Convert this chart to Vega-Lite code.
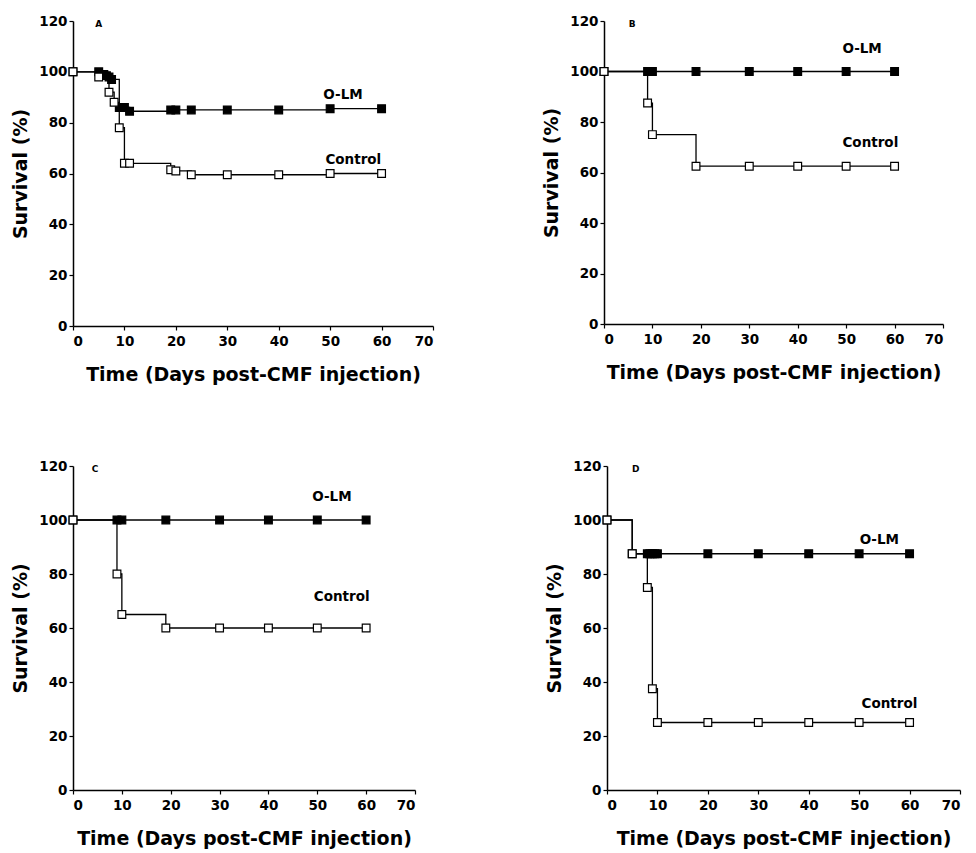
{
"$schema":"https://vega.github.io/schema/vega-lite/v6.json",
"background":"white",
"padding":{"left":11,"top":14,"right":5,"bottom":5},
"config":{
 "view":{"stroke":null},
 "font":"DejaVu Sans",
 "axis":{"grid":false,"domainColor":"black","domainWidth":1.5,"tickColor":"black","tickWidth":1.2,"tickSize":4,"labelColor":"black","labelFont":"DejaVu Sans","labelFontWeight":"bold","labelFontSize":13.5,"labelPadding":2,"titleColor":"black","titleFont":"DejaVu Sans","titleFontWeight":"bold","titleFontSize":19},
 "axisX":{"titlePadding":18,"labelPadding":4},
 "axisY":{"titlePadding":8}
},
"datasets":{
 "surv":[
  {"panel":"A","group":"O-LM","day":0,"surv":100},{"panel":"A","group":"O-LM","day":5,"surv":100},{"panel":"A","group":"O-LM","day":6,"surv":99},{"panel":"A","group":"O-LM","day":6.5,"surv":98.5},{"panel":"A","group":"O-LM","day":7,"surv":98},{"panel":"A","group":"O-LM","day":7.5,"surv":97},{"panel":"A","group":"O-LM","day":9,"surv":86},{"panel":"A","group":"O-LM","day":10,"surv":86},{"panel":"A","group":"O-LM","day":11,"surv":84.5},{"panel":"A","group":"O-LM","day":19,"surv":85},{"panel":"A","group":"O-LM","day":20,"surv":85},{"panel":"A","group":"O-LM","day":23,"surv":85},{"panel":"A","group":"O-LM","day":30,"surv":85},{"panel":"A","group":"O-LM","day":40,"surv":85},{"panel":"A","group":"O-LM","day":50,"surv":85.5},{"panel":"A","group":"O-LM","day":60,"surv":85.5},
  {"panel":"A","group":"Control","day":0,"surv":100},{"panel":"A","group":"Control","day":5,"surv":98},{"panel":"A","group":"Control","day":7,"surv":92},{"panel":"A","group":"Control","day":8,"surv":88},{"panel":"A","group":"Control","day":9,"surv":78},{"panel":"A","group":"Control","day":10,"surv":64},{"panel":"A","group":"Control","day":11,"surv":64},{"panel":"A","group":"Control","day":19,"surv":61.5},{"panel":"A","group":"Control","day":20,"surv":61},{"panel":"A","group":"Control","day":23,"surv":59.5},{"panel":"A","group":"Control","day":30,"surv":59.5},{"panel":"A","group":"Control","day":40,"surv":59.5},{"panel":"A","group":"Control","day":50,"surv":60},{"panel":"A","group":"Control","day":60,"surv":60},
  {"panel":"B","group":"O-LM","day":0,"surv":100},{"panel":"B","group":"O-LM","day":9,"surv":100},{"panel":"B","group":"O-LM","day":9.5,"surv":100},{"panel":"B","group":"O-LM","day":10,"surv":100},{"panel":"B","group":"O-LM","day":19,"surv":100},{"panel":"B","group":"O-LM","day":30,"surv":100},{"panel":"B","group":"O-LM","day":40,"surv":100},{"panel":"B","group":"O-LM","day":50,"surv":100},{"panel":"B","group":"O-LM","day":60,"surv":100},
  {"panel":"B","group":"Control","day":0,"surv":100},{"panel":"B","group":"Control","day":9,"surv":87.5},{"panel":"B","group":"Control","day":10,"surv":75},{"panel":"B","group":"Control","day":19,"surv":62.5},{"panel":"B","group":"Control","day":30,"surv":62.5},{"panel":"B","group":"Control","day":40,"surv":62.5},{"panel":"B","group":"Control","day":50,"surv":62.5},{"panel":"B","group":"Control","day":60,"surv":62.5},
  {"panel":"C","group":"O-LM","day":0,"surv":100},{"panel":"C","group":"O-LM","day":9,"surv":100},{"panel":"C","group":"O-LM","day":10,"surv":100},{"panel":"C","group":"O-LM","day":19,"surv":100},{"panel":"C","group":"O-LM","day":30,"surv":100},{"panel":"C","group":"O-LM","day":40,"surv":100},{"panel":"C","group":"O-LM","day":50,"surv":100},{"panel":"C","group":"O-LM","day":60,"surv":100},
  {"panel":"C","group":"Control","day":0,"surv":100},{"panel":"C","group":"Control","day":9,"surv":80},{"panel":"C","group":"Control","day":10,"surv":65},{"panel":"C","group":"Control","day":19,"surv":60},{"panel":"C","group":"Control","day":30,"surv":60},{"panel":"C","group":"Control","day":40,"surv":60},{"panel":"C","group":"Control","day":50,"surv":60},{"panel":"C","group":"Control","day":60,"surv":60},
  {"panel":"D","group":"O-LM","day":0,"surv":100},{"panel":"D","group":"O-LM","day":5,"surv":87.5},{"panel":"D","group":"O-LM","day":8,"surv":87.5},{"panel":"D","group":"O-LM","day":8.5,"surv":87.5},{"panel":"D","group":"O-LM","day":9,"surv":87.5},{"panel":"D","group":"O-LM","day":9.5,"surv":87.5},{"panel":"D","group":"O-LM","day":10,"surv":87.5},{"panel":"D","group":"O-LM","day":20,"surv":87.5},{"panel":"D","group":"O-LM","day":30,"surv":87.5},{"panel":"D","group":"O-LM","day":40,"surv":87.5},{"panel":"D","group":"O-LM","day":50,"surv":87.5},{"panel":"D","group":"O-LM","day":60,"surv":87.5},
  {"panel":"D","group":"Control","day":0,"surv":100},{"panel":"D","group":"Control","day":5,"surv":87.5},{"panel":"D","group":"Control","day":8,"surv":75},{"panel":"D","group":"Control","day":9,"surv":37.5},{"panel":"D","group":"Control","day":10,"surv":25},{"panel":"D","group":"Control","day":20,"surv":25},{"panel":"D","group":"Control","day":30,"surv":25},{"panel":"D","group":"Control","day":40,"surv":25},{"panel":"D","group":"Control","day":50,"surv":25},{"panel":"D","group":"Control","day":60,"surv":25}
 ],
 "labels":[
  {"panel":"A","label":"O-LM","day":52.5,"surv":91},{"panel":"A","label":"Control","day":54.5,"surv":65.5},
  {"panel":"B","label":"O-LM","day":53.3,"surv":108.8},{"panel":"B","label":"Control","day":55,"surv":71.5},
  {"panel":"C","label":"O-LM","day":53,"surv":108.6},{"panel":"C","label":"Control","day":55,"surv":71.6},
  {"panel":"D","label":"O-LM","day":54,"surv":92.7},{"panel":"D","label":"Control","day":56,"surv":32}
 ],
 "one":[{}]
},
"vconcat":[
 {"hconcat":[
  {"width":360,"height":305,"layer":[
   {"data":{"name":"surv"},"transform":[{"filter":"datum.panel==='A'"}],"mark":{"type":"line","interpolate":"step-after","color":"black","strokeWidth":1.3},"encoding":{"x":{"field":"day","type":"quantitative","scale":{"domain":[0,70],"nice":false},"axis":{"values":[0,10,20,30,40,50,60,70]},"title":"Time (Days post-CMF injection)"},"y":{"field":"surv","type":"quantitative","scale":{"domain":[0,120],"nice":false},"axis":{"values":[0,20,40,60,80,100,120]},"title":"Survival (%)"},"detail":{"field":"group"}}},
   {"data":{"name":"surv"},"transform":[{"filter":"datum.panel==='A'"}],"mark":{"type":"point","shape":"square","filled":true,"size":60,"stroke":"black","strokeWidth":1.2,"opacity":1},"encoding":{"x":{"field":"day","type":"quantitative"},"y":{"field":"surv","type":"quantitative"},"fill":{"field":"group","scale":{"domain":["O-LM","Control"],"range":["black","white"]},"legend":null}}},
   {"data":{"name":"labels"},"transform":[{"filter":"datum.panel==='A'"}],"mark":{"type":"text","fontWeight":"bold","fontSize":13.5,"color":"black"},"encoding":{"x":{"field":"day","type":"quantitative"},"y":{"field":"surv","type":"quantitative"},"text":{"field":"label"}}},
   {"data":{"name":"one"},"mark":{"type":"text","text":"A","fontWeight":"bold","fontSize":9,"color":"black"},"encoding":{"x":{"datum":5},"y":{"datum":119}}}
  ]},
  {"width":339,"height":303,"layer":[
   {"data":{"name":"surv"},"transform":[{"filter":"datum.panel==='B'"}],"mark":{"type":"line","interpolate":"step-after","color":"black","strokeWidth":1.3},"encoding":{"x":{"field":"day","type":"quantitative","scale":{"domain":[0,70],"nice":false},"axis":{"values":[0,10,20,30,40,50,60,70]},"title":"Time (Days post-CMF injection)"},"y":{"field":"surv","type":"quantitative","scale":{"domain":[0,120],"nice":false},"axis":{"values":[0,20,40,60,80,100,120]},"title":"Survival (%)"},"detail":{"field":"group"}}},
   {"data":{"name":"surv"},"transform":[{"filter":"datum.panel==='B'"}],"mark":{"type":"point","shape":"square","filled":true,"size":60,"stroke":"black","strokeWidth":1.2,"opacity":1},"encoding":{"x":{"field":"day","type":"quantitative"},"y":{"field":"surv","type":"quantitative"},"fill":{"field":"group","scale":{"domain":["O-LM","Control"],"range":["black","white"]},"legend":null}}},
   {"data":{"name":"labels"},"transform":[{"filter":"datum.panel==='B'"}],"mark":{"type":"text","fontWeight":"bold","fontSize":13.5,"color":"black"},"encoding":{"x":{"field":"day","type":"quantitative"},"y":{"field":"surv","type":"quantitative"},"text":{"field":"label"}}},
   {"data":{"name":"one"},"mark":{"type":"text","text":"B","fontWeight":"bold","fontSize":9,"color":"black"},"encoding":{"x":{"datum":5.8},"y":{"datum":119}}}
  ]}
 ],"spacing":108},
 {"hconcat":[
  {"width":342,"height":324,"layer":[
   {"data":{"name":"surv"},"transform":[{"filter":"datum.panel==='C'"}],"mark":{"type":"line","interpolate":"step-after","color":"black","strokeWidth":1.3},"encoding":{"x":{"field":"day","type":"quantitative","scale":{"domain":[0,70],"nice":false},"axis":{"values":[0,10,20,30,40,50,60,70]},"title":"Time (Days post-CMF injection)"},"y":{"field":"surv","type":"quantitative","scale":{"domain":[0,120],"nice":false},"axis":{"values":[0,20,40,60,80,100,120]},"title":"Survival (%)"},"detail":{"field":"group"}}},
   {"data":{"name":"surv"},"transform":[{"filter":"datum.panel==='C'"}],"mark":{"type":"point","shape":"square","filled":true,"size":60,"stroke":"black","strokeWidth":1.2,"opacity":1},"encoding":{"x":{"field":"day","type":"quantitative"},"y":{"field":"surv","type":"quantitative"},"fill":{"field":"group","scale":{"domain":["O-LM","Control"],"range":["black","white"]},"legend":null}}},
   {"data":{"name":"labels"},"transform":[{"filter":"datum.panel==='C'"}],"mark":{"type":"text","fontWeight":"bold","fontSize":13.5,"color":"black"},"encoding":{"x":{"field":"day","type":"quantitative"},"y":{"field":"surv","type":"quantitative"},"text":{"field":"label"}}},
   {"data":{"name":"one"},"mark":{"type":"text","text":"C","fontWeight":"bold","fontSize":9,"color":"black"},"encoding":{"x":{"datum":4.5},"y":{"datum":119}}}
  ]},
  {"width":353,"height":324,"layer":[
   {"data":{"name":"surv"},"transform":[{"filter":"datum.panel==='D'"}],"mark":{"type":"line","interpolate":"step-after","color":"black","strokeWidth":1.3},"encoding":{"x":{"field":"day","type":"quantitative","scale":{"domain":[0,70],"nice":false},"axis":{"values":[0,10,20,30,40,50,60,70]},"title":"Time (Days post-CMF injection)"},"y":{"field":"surv","type":"quantitative","scale":{"domain":[0,120],"nice":false},"axis":{"values":[0,20,40,60,80,100,120]},"title":"Survival (%)"},"detail":{"field":"group"}}},
   {"data":{"name":"surv"},"transform":[{"filter":"datum.panel==='D'"}],"mark":{"type":"point","shape":"square","filled":true,"size":60,"stroke":"black","strokeWidth":1.2,"opacity":1},"encoding":{"x":{"field":"day","type":"quantitative"},"y":{"field":"surv","type":"quantitative"},"fill":{"field":"group","scale":{"domain":["O-LM","Control"],"range":["black","white"]},"legend":null}}},
   {"data":{"name":"labels"},"transform":[{"filter":"datum.panel==='D'"}],"mark":{"type":"text","fontWeight":"bold","fontSize":13.5,"color":"black"},"encoding":{"x":{"field":"day","type":"quantitative"},"y":{"field":"surv","type":"quantitative"},"text":{"field":"label"}}},
   {"data":{"name":"one"},"mark":{"type":"text","text":"D","fontWeight":"bold","fontSize":9,"color":"black"},"encoding":{"x":{"datum":5.7},"y":{"datum":119}}}
  ]}
 ],"spacing":129}
],
"spacing":74
}
